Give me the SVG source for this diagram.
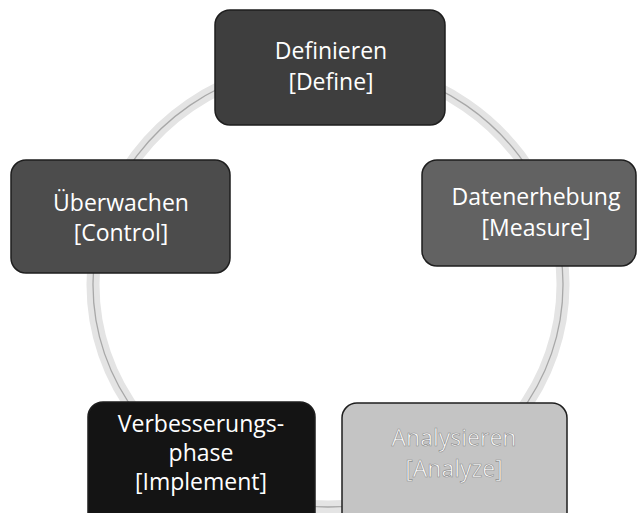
<svg xmlns="http://www.w3.org/2000/svg" width="638" height="513" viewBox="0 0 638 513">
  <style>
    .band { fill: none; stroke: #e4e4e4; stroke-width: 13; }
    .edge { fill: none; stroke: #a8a8a8; stroke-width: 1.3; }
    .box { stroke: #1e1e1e; stroke-width: 1.5; }
    .lbl { font-family: "Open Sans", "Noto Sans", sans-serif; font-size: 23px; fill: #ffffff; text-anchor: middle; }
    .lbl-light { font-family: "Open Sans", "Noto Sans", sans-serif; font-size: 23px; fill: #ffffff; stroke: #8c8c8c; stroke-width: 0.6; text-anchor: middle; }
  </style>
  <rect width="638" height="513" fill="#ffffff"/>
  <g id="connectors">
    <path class="band" d="M 328 63 A 235 222 0 0 1 551.5 216.4"/>
    <path class="band" d="M 551.5 216.4 A 235 222 0 0 1 466.1 464.6"/>
    <path class="band" d="M 466.1 464.6 A 235 222 0 0 1 189.9 464.6"/>
    <path class="band" d="M 189.9 464.6 A 235 222 0 0 1 104.5 216.4"/>
    <path class="band" d="M 104.5 216.4 A 235 222 0 0 1 328 63"/>
    <path class="edge" d="M 328 63 A 235 222 0 0 1 551.5 216.4"/>
    <path class="edge" d="M 551.5 216.4 A 235 222 0 0 1 466.1 464.6"/>
    <path class="edge" d="M 466.1 464.6 A 235 222 0 0 1 189.9 464.6"/>
    <path class="edge" d="M 189.9 464.6 A 235 222 0 0 1 104.5 216.4"/>
    <path class="edge" d="M 104.5 216.4 A 235 222 0 0 1 328 63"/>
  </g>
  <g id="node-define">
    <rect class="box" x="215" y="10" width="230" height="115" rx="15" fill="#3e3e3e"/>
    <text class="lbl" x="331" y="59">Definieren</text>
    <text class="lbl" x="331" y="90">[Define]</text>
  </g>
  <g id="node-measure">
    <rect class="box" x="422" y="160" width="214" height="106" rx="15" fill="#626262"/>
    <text class="lbl" x="536" y="205">Datenerhebung</text>
    <text class="lbl" x="536" y="236">[Measure]</text>
  </g>
  <g id="node-analyze">
    <rect class="box" x="342" y="403" width="225" height="125" rx="15" fill="#c4c4c4"/>
    <text class="lbl-light" x="454" y="446">Analysieren</text>
    <text class="lbl-light" x="454" y="477">[Analyze]</text>
  </g>
  <g id="node-implement">
    <rect class="box" x="88" y="402" width="227" height="126" rx="15" fill="#141414"/>
    <text class="lbl" x="201" y="432">Verbesserungs-</text>
    <text class="lbl" x="201" y="461">phase</text>
    <text class="lbl" x="201" y="490">[Implement]</text>
  </g>
  <g id="node-control">
    <rect class="box" x="11" y="160" width="219" height="113" rx="15" fill="#4c4c4c"/>
    <text class="lbl" x="121" y="211">Überwachen</text>
    <text class="lbl" x="121" y="241">[Control]</text>
  </g>
</svg>
